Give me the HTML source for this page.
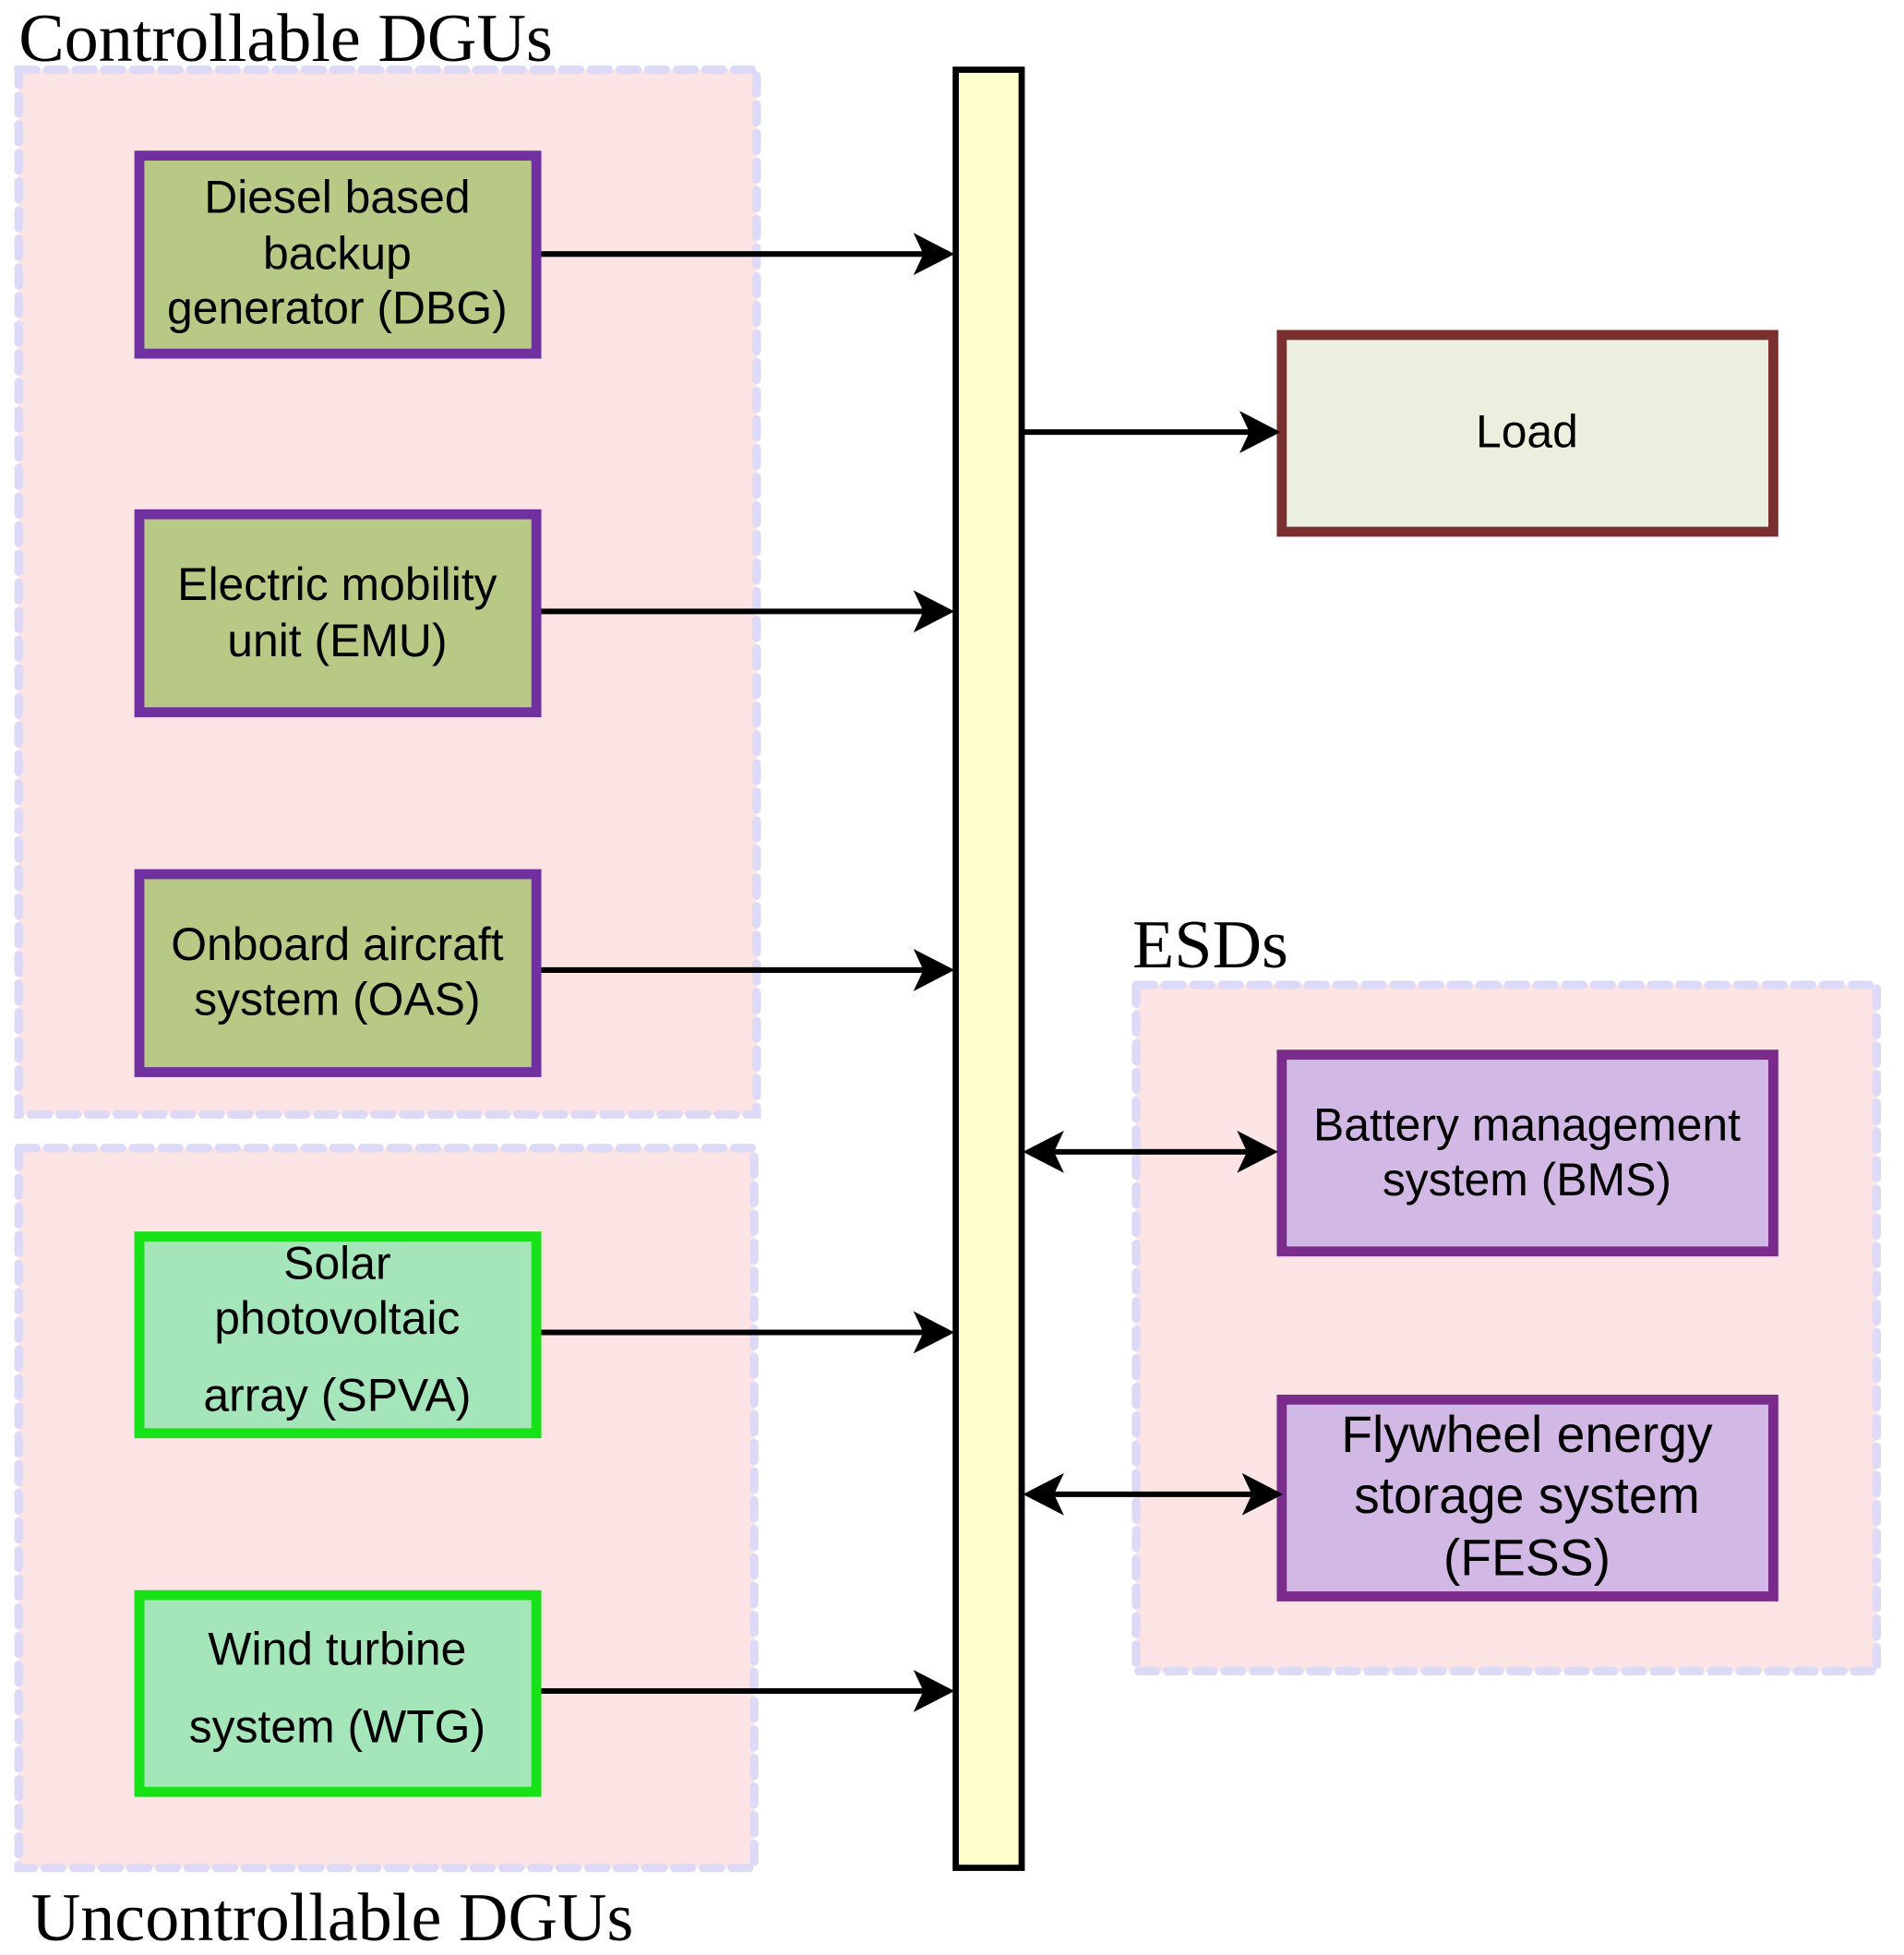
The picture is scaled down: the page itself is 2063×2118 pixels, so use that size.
<!DOCTYPE html>
<html><head><meta charset="utf-8"><style>html,body{margin:0;padding:0;background:#fff}svg{display:block}</style></head>
<body>
<svg width="2063" height="2118" viewBox="0 0 1530 1570" preserveAspectRatio="none" xmlns="http://www.w3.org/2000/svg">
<defs>
<style>
.t{font-family:"Liberation Serif",serif;font-size:55px;fill:#000}
.b{font-family:"Liberation Sans",sans-serif;font-size:37px;fill:#000;text-anchor:middle}
.g{fill:#fde4e4;stroke:#dcdaf6;stroke-width:7;stroke-dasharray:14 9;stroke-linecap:round}
.l{stroke:#000;stroke-width:4.5}
</style>
</defs>
<rect class="g" x="15" y="56" width="593" height="839"/>
<rect class="g" x="15" y="922" width="591" height="578"/>
<rect class="g" x="913" y="791" width="595" height="551"/>
<text class="t" x="15" y="49">Controllable DGUs</text>
<text class="t" x="25" y="1558">Uncontrollable DGUs</text>
<text class="t" x="910" y="777">ESDs</text>
<rect x="768" y="56" width="53" height="1444" fill="#ffffcc" stroke="#000" stroke-width="5"/>
<g stroke="#7030a0" stroke-width="8" fill="#b8c986">
<rect x="112" y="125" width="319" height="159"/>
<rect x="112" y="413" width="319" height="159"/>
<rect x="112" y="702" width="319" height="159"/>
</g>
<g stroke="#17e117" stroke-width="8" fill="#a4e5b9">
<rect x="112" y="993" width="319" height="158"/>
<rect x="112" y="1281" width="319" height="158"/>
</g>
<rect x="1030" y="269" width="395" height="158" fill="#ebefdd" stroke="#7a3030" stroke-width="8"/>
<g stroke="#7b2b8b" stroke-width="8" fill="#d2b8e4">
<rect x="1030" y="847" width="395" height="158"/>
<rect x="1030" y="1124" width="395" height="158"/>
</g>
<g class="l">
<line x1="435" y1="204" x2="745" y2="204"/>
<line x1="435" y1="491" x2="745" y2="491"/>
<line x1="435" y1="779" x2="745" y2="779"/>
<line x1="435" y1="1070" x2="745" y2="1070"/>
<line x1="435" y1="1358" x2="745" y2="1358"/>
<line x1="821" y1="347" x2="1005" y2="347"/>
<line x1="840" y1="925" x2="1005" y2="925"/>
<line x1="840" y1="1200" x2="1008" y2="1200"/>
</g>
<g fill="#000">
<path d="M767 204 l-33 -17 l8 17 l-8 17z"/>
<path d="M767 491 l-33 -17 l8 17 l-8 17z"/>
<path d="M767 779 l-33 -17 l8 17 l-8 17z"/>
<path d="M767 1070 l-33 -17 l8 17 l-8 17z"/>
<path d="M767 1358 l-33 -17 l8 17 l-8 17z"/>
<path d="M1029 347 l-33 -17 l8 17 l-8 17z"/>
<path d="M1027 925 l-33 -17 l8 17 l-8 17z"/>
<path d="M1031 1200 l-33 -17 l8 17 l-8 17z"/>
<path d="M822 925 l33 -17 l-8 17 l8 17z"/>
<path d="M822 1200 l33 -17 l-8 17 l8 17z"/>
</g>
<text class="b" x="271" y="171">Diesel based</text>
<text class="b" x="271" y="216">backup</text>
<text class="b" x="271" y="260">generator (DBG)</text>
<text class="b" x="271" y="482">Electric mobility</text>
<text class="b" x="271" y="527">unit (EMU)</text>
<text class="b" x="271" y="771">Onboard aircraft</text>
<text class="b" x="271" y="815">system (OAS)</text>
<text class="b" x="271" y="1027">Solar</text>
<text class="b" x="271" y="1071">photovoltaic</text>
<text class="b" x="271" y="1133">array (SPVA)</text>
<text class="b" x="271" y="1337">Wind turbine</text>
<text class="b" x="271" y="1399">system (WTG)</text>
<text class="b" x="1227" y="359">Load</text>
<text class="b" x="1227" y="916">Battery management</text>
<text class="b" x="1227" y="960">system (BMS)</text>
<text class="b" x="1227" y="1166" style="font-size:41px">Flywheel energy</text>
<text class="b" x="1227" y="1215" style="font-size:41px">storage system</text>
<text class="b" x="1227" y="1265" style="font-size:41px">(FESS)</text>
</svg>
</body></html>
